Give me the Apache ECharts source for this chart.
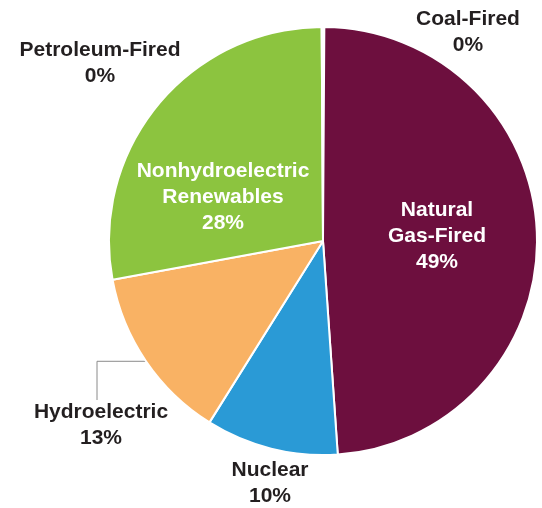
<!DOCTYPE html>
<html>
<head>
<meta charset="utf-8">
<script src="https://cdn.jsdelivr.net/npm/echarts@6/dist/echarts.min.js"></script>
<style>
  html, body { margin: 0; padding: 0; background: #fff; }
  #chart { width: 542px; height: 508px; }
</style>
</head>
<body>
<div id="chart"></div>
<script>
// share of generation, clockwise from 12 o'clock
var names = ['Coal-Fired', 'Natural\nGas-Fired', 'Nuclear', 'Hydroelectric', 'Nonhydroelectric\nRenewables', 'Petroleum-Fired'];
var shares = [0.1, 48.8, 10.0, 13.2, 27.8, 0.1];
var colors = ['#6d0f3e', '#6d0f3e', '#2a9ad6', '#f9b264', '#8cc43f', '#8cc43f'];
var insideLabel = [false, true, false, false, true, false];

// where each label sits (center of the text block)
var labelPos = [[468, 32], [437, 236], [270, 483], [101, 425], [223, 197], [100, 63]];

var chart = echarts.init(document.getElementById('chart'));

var data = names.map(function (n, i) {
    return {
        name: n,
        value: shares[i],
        itemStyle: { color: colors[i] },
        label: { color: insideLabel[i] ? '#ffffff' : '#231f20' },
        labelLine: { show: i === 3 }
    };
});

chart.setOption({
    animation: false,
    series: [{
        type: 'pie',
        center: [323, 241],
        radius: [0, 214],
        startAngle: 90,
        clockwise: true,
        avoidLabelOverlap: false,
        itemStyle: { borderColor: '#ffffff', borderWidth: 2 },
        label: {
            show: true,
            position: 'outside',
            fontFamily: 'Liberation Sans',
            fontWeight: 'bold',
            fontSize: 21,
            lineHeight: 26,
            align: 'center',
            formatter: function (p) {
                return p.name + '\n' + Math.round(p.value) + '%';
            }
        },
        labelLine: {
            lineStyle: { color: '#8a8a8a', width: 1 },
            length: 10,
            length2: 10
        },
        labelLayout: function (p) {
            var pos = labelPos[p.dataIndex];
            var out = { x: pos[0], y: pos[1], align: 'center', verticalAlign: 'middle' };
            if (p.dataIndex === 3 && p.labelLinePoints) {
                var s = p.labelLinePoints[0];
                out.labelLinePoints = [[s[0], s[1]], [97, s[1]], [97, 400]];
            }
            return out;
        },
        data: data
    }]
});
</script>
</body>
</html>
